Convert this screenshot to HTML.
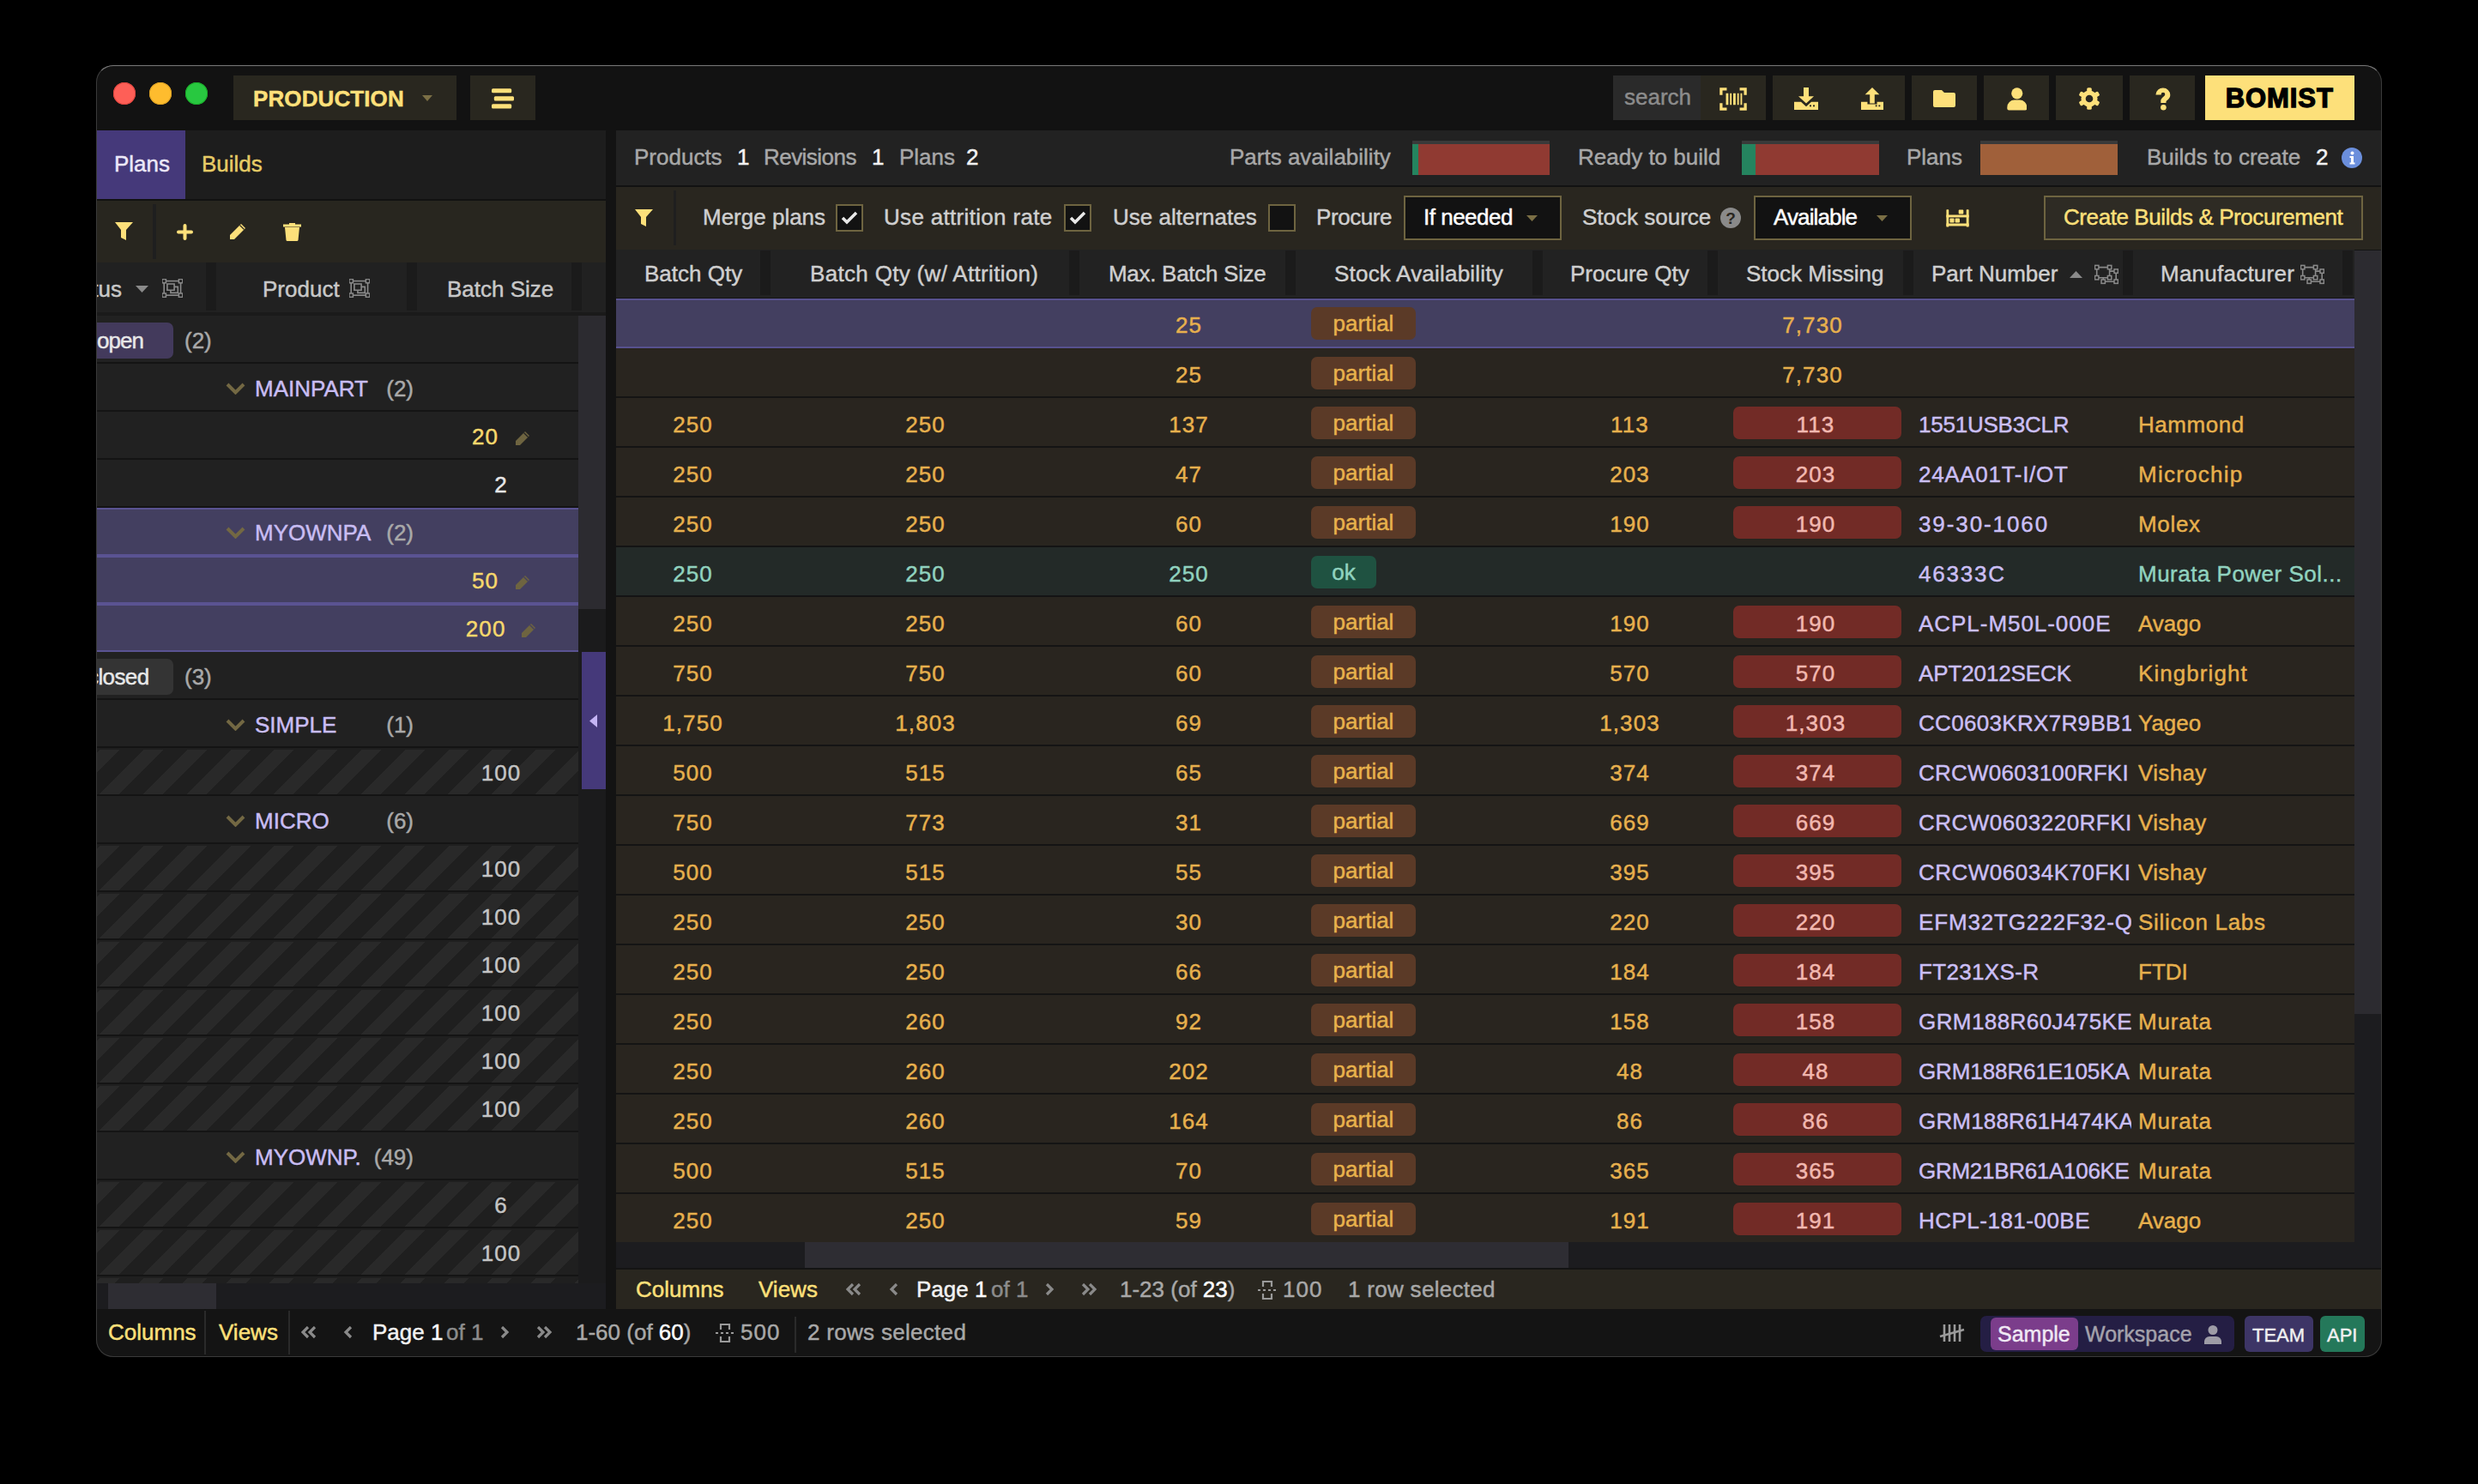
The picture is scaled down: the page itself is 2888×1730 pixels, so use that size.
<!DOCTYPE html><html><head><meta charset="utf-8"><style>
html,body{margin:0;padding:0;background:#000;width:2888px;height:1730px;overflow:hidden;}
body{position:relative;font-family:"Liberation Sans",sans-serif;}
.t{position:absolute;white-space:nowrap;-webkit-text-stroke-width:0.45px;}
.r{position:absolute;}
</style></head><body>
<div id="win" class="r" style="left:112px;top:76px;width:2664px;height:1506px;border-radius:20px;background:#131313;overflow:hidden;">
<div class="r" style="left:-112px;top:-76px;width:2888px;height:1730px;">
<div class="r" style="left:112px;top:76px;width:2664px;height:76px;background:#121212;"></div>
<div class="r" style="left:132px;top:96px;width:26px;height:26px;border-radius:50%;background:#fe5f57;box-shadow:inset 0 0 0 1px #e0443e;"></div>
<div class="r" style="left:174px;top:96px;width:26px;height:26px;border-radius:50%;background:#febc2e;box-shadow:inset 0 0 0 1px #dea123;"></div>
<div class="r" style="left:216px;top:96px;width:26px;height:26px;border-radius:50%;background:#28c840;box-shadow:inset 0 0 0 1px #1aab29;"></div>
<div class="r" style="left:272px;top:88px;width:260px;height:52px;background:#29271f;"></div>
<div class="t" style="left:295.0px;top:100.0px;font-size:26px;line-height:30px;color:#fde07a;font-weight:700;letter-spacing:0.1px;">PRODUCTION</div>
<svg class="r" style="left:492px;top:111px" width="12" height="7" viewBox="0 0 12 7" preserveAspectRatio="none"><path d="M0 0 L12 0 L6 7 Z" fill="#7b6f45"/></svg>
<div class="r" style="left:548px;top:88px;width:76px;height:52px;background:#29271f;"></div>
<svg class="r" style="left:572px;top:103px" width="28" height="24" viewBox="0 0 28 24" preserveAspectRatio="none"><rect x="1" y="0.2" width="23.2" height="5" rx="1.5" fill="#fde07a"/><rect x="3.8" y="9.3" width="23.2" height="5.2" rx="1.5" fill="#fde07a"/><rect x="1" y="18.3" width="23.2" height="5.1" rx="1.5" fill="#fde07a"/></svg>
<div class="r" style="left:1880px;top:88px;width:102px;height:52px;background:#2a2a2a;"></div>
<div class="t" style="left:1893.0px;top:98.0px;font-size:26px;line-height:30px;color:#8c8c8c;">search</div>
<div class="r" style="left:1982px;top:88px;width:76px;height:52px;background:#29271f;"></div>
<svg class="r" style="left:2004px;top:101.5px" width="32" height="27" viewBox="0 0 34 28" preserveAspectRatio="none"><g fill="none" stroke="#fde07a" stroke-width="3.5"><path d="M9 2H2V9"/><path d="M25 2H32V9"/><path d="M2 19V26H9"/><path d="M32 19V26H25"/></g><g fill="#fde07a"><rect x="8" y="7" width="3" height="14"/><rect x="13" y="7" width="2" height="14"/><rect x="17" y="7" width="3" height="14"/><rect x="22" y="7" width="2" height="14"/><rect x="26" y="7" width="2" height="14"/></g></svg>
<div class="r" style="left:2066px;top:88px;width:154px;height:52px;background:#29271f;"></div>
<svg class="r" style="left:2091px;top:102px" width="28" height="26" viewBox="0 0 28 28" preserveAspectRatio="none"><path d="M11 0h6v11h6l-9 9-9-9h6z" fill="#fde07a"/><path d="M0 18h8l6 6 6-6h8v10H0z" fill="#fde07a"/><rect x="22" y="22" width="2" height="2" fill="#29271f"/><rect x="18" y="22" width="2" height="2" fill="#29271f"/></svg>
<svg class="r" style="left:2169px;top:102px" width="26" height="26" viewBox="0 0 28 28" preserveAspectRatio="none"><path d="M14 0l9 9h-6v11h-6V9H5z" fill="#fde07a"/><path d="M0 18h8v3h12v-3h8v10H0z" fill="#fde07a"/><rect x="22" y="22" width="2" height="2" fill="#29271f"/><rect x="18" y="22" width="2" height="2" fill="#29271f"/></svg>
<div class="r" style="left:2228px;top:88px;width:76px;height:52px;background:#29271f;"></div>
<svg class="r" style="left:2253px;top:105px" width="26" height="20" viewBox="0 0 26 20" preserveAspectRatio="none"><path d="M2 0h8l3 3h11a2 2 0 0 1 2 2v13a2 2 0 0 1-2 2H2a2 2 0 0 1-2-2V2a2 2 0 0 1 2-2z" fill="#fde07a"/></svg>
<div class="r" style="left:2312px;top:88px;width:76px;height:52px;background:#29271f;"></div>
<svg class="r" style="left:2338.5px;top:101.5px" width="23.5" height="27" viewBox="0 0 23.5 27" preserveAspectRatio="none"><circle cx="11.75" cy="6.8" r="6.6" fill="#fde07a"/><path d="M0.3 24.5V23a8.5 8.5 0 0 1 8.5-8.5h6a8.5 8.5 0 0 1 8.5 8.5v1.5a2 2 0 0 1-2 2H2.3a2 2 0 0 1-2-2z" fill="#fde07a"/></svg>
<div class="r" style="left:2396px;top:88px;width:78px;height:52px;background:#29271f;"></div>
<svg class="r" style="left:2422px;top:102px" width="26" height="26" viewBox="0 0 26 26" preserveAspectRatio="none"><rect x="10.2" y="0.2" width="5.6" height="8" rx="1.6" fill="#fde07a" transform="rotate(0 13 13)"/><rect x="10.2" y="0.2" width="5.6" height="8" rx="1.6" fill="#fde07a" transform="rotate(60 13 13)"/><rect x="10.2" y="0.2" width="5.6" height="8" rx="1.6" fill="#fde07a" transform="rotate(120 13 13)"/><rect x="10.2" y="0.2" width="5.6" height="8" rx="1.6" fill="#fde07a" transform="rotate(180 13 13)"/><rect x="10.2" y="0.2" width="5.6" height="8" rx="1.6" fill="#fde07a" transform="rotate(240 13 13)"/><rect x="10.2" y="0.2" width="5.6" height="8" rx="1.6" fill="#fde07a" transform="rotate(300 13 13)"/><circle cx="13" cy="13" r="9.6" fill="#fde07a"/><circle cx="13" cy="13" r="4.3" fill="#29271f"/></svg>
<div class="r" style="left:2482px;top:88px;width:76px;height:52px;background:#29271f;"></div>
<svg class="r" style="left:2511.5px;top:101.5px" width="18" height="27" viewBox="0 0 18 27" preserveAspectRatio="none"><path d="M9 0.5a8.3 8.3 0 0 1 8.3 8.3c0 4.2-3.6 5.6-4.8 7.6v1.6H6.3v-2.4c0-3.8 5-5.2 5-7.6a2.3 2.3 0 0 0-4.6 0v0.6H0.5v-0.6A8.3 8.3 0 0 1 9 0.5z" fill="#fde07a"/><circle cx="9.4" cy="23.3" r="3.3" fill="#fde07a"/></svg>
<div class="r" style="left:2570px;top:88px;width:174px;height:52px;background:#fde07a;"></div>
<div class="t" style="left:2593.8px;top:96.9px;font-size:31px;line-height:36px;color:#000;font-weight:700;letter-spacing:0.9px;-webkit-text-stroke:1.3px #000;">BOMIST</div>
<div class="r" style="left:112px;top:152px;width:594px;height:80px;background:#1d1d1d;"></div>
<div class="r" style="left:112px;top:152px;width:104px;height:80px;background:#45397a;"></div>
<div class="t" style="left:133.0px;top:176.0px;font-size:26px;line-height:30px;color:#ece8f8;">Plans</div>
<div class="t" style="left:235.0px;top:176.0px;font-size:26px;line-height:30px;color:#e6cc66;">Builds</div>
<div class="r" style="left:112px;top:232px;width:594px;height:2px;background:#121212;"></div>
<div class="r" style="left:112px;top:234px;width:594px;height:72px;background:#28261f;"></div>
<div class="r" style="left:178px;top:238px;width:4px;height:64px;background:#1f1f1f;"></div>
<svg class="r" style="left:134px;top:259px" width="22" height="22" viewBox="0 0 22 22" preserveAspectRatio="none"><path d="M0 0h21l-8 9v12l-6-3V9z" fill="#fde07a"/></svg>
<svg class="r" style="left:206px;top:261px" width="19" height="19" viewBox="0 0 19 19" preserveAspectRatio="none"><path d="M9.5 2v15M2 9.5h15" stroke="#fde07a" stroke-width="4" stroke-linecap="round"/></svg>
<svg class="r" style="left:266px;top:259px" width="22" height="22" viewBox="0 0 22 22" preserveAspectRatio="none"><path d="M15 2l5 5-13 13H2v-5z" fill="#fde07a"/><path d="M13.5 3.5l5 5" stroke="#28261f" stroke-width="1.2"/></svg>
<svg class="r" style="left:330px;top:259px" width="21" height="22" viewBox="0 0 21 22" preserveAspectRatio="none"><path d="M0 2.5h21v3H0z" fill="#fde07a"/><path d="M7 1h7v2H7z" fill="#fde07a"/><path d="M2 6h17l-1.5 15a1.5 1.5 0 0 1-1.5 1H5a1.5 1.5 0 0 1-1.5-1z" fill="#fde07a"/></svg>
<div class="r" style="left:112px;top:306px;width:594px;height:58px;background:#212121;"></div>
<div class="r" style="left:240px;top:306px;width:12px;height:56px;background:#1b1b1b;"></div>
<div class="r" style="left:474px;top:306px;width:12px;height:56px;background:#1b1b1b;"></div>
<div class="r" style="left:666px;top:306px;width:12px;height:56px;background:#1b1b1b;"></div>
<div class="t" style="left:42.0px;width:100px;text-align:right;top:322.0px;font-size:26px;line-height:30px;color:#c8c8c8;">tus</div>
<svg class="r" style="left:158px;top:333px" width="15" height="9" viewBox="0 0 15 9" preserveAspectRatio="none"><path d="M0 0h15l-7.5 8z" fill="#8a8a8a"/></svg>
<svg class="r" style="left:189px;top:325px" width="24" height="22" viewBox="0 0 24 22" preserveAspectRatio="none"><g fill="none" stroke="#8a8a8a" stroke-width="1.6"><rect x="2.2" y="2.6" width="19.4" height="16.6"/><path d="M5.9 6H14.1V13.3H5.9Z"/><path d="M14.1 9.4H18.3V16.4H9.9V13.3"/></g><g fill="#212121" stroke="#8a8a8a" stroke-width="1.5"><rect x="0" y="0.4" width="4.4" height="4.4"/><rect x="19.4" y="0.4" width="4.4" height="4.4"/><rect x="0" y="17" width="4.4" height="4.4"/><rect x="19.4" y="17" width="4.4" height="4.4"/></g></svg>
<div class="t" style="left:306.0px;top:322.0px;font-size:26px;line-height:30px;color:#c8c8c8;">Product</div>
<svg class="r" style="left:407px;top:325px" width="24" height="22" viewBox="0 0 24 22" preserveAspectRatio="none"><g fill="none" stroke="#8a8a8a" stroke-width="1.6"><rect x="2.2" y="2.6" width="19.4" height="16.6"/><path d="M5.9 6H14.1V13.3H5.9Z"/><path d="M14.1 9.4H18.3V16.4H9.9V13.3"/></g><g fill="#212121" stroke="#8a8a8a" stroke-width="1.5"><rect x="0" y="0.4" width="4.4" height="4.4"/><rect x="19.4" y="0.4" width="4.4" height="4.4"/><rect x="0" y="17" width="4.4" height="4.4"/><rect x="19.4" y="17" width="4.4" height="4.4"/></g></svg>
<div class="t" style="left:521.0px;top:322.0px;font-size:26px;line-height:30px;color:#c8c8c8;">Batch Size</div>
<div class="r" style="left:112px;top:364px;width:594px;height:4px;background:#1a1a1a;"></div>
<div class="r" style="left:112px;top:368px;width:562px;height:1128px;overflow:hidden;background:#141414;">
<div class="r" style="left:0px;top:0px;width:562px;height:54px;background:#212121;"></div>
<div class="r" style="left:0px;top:54px;width:562px;height:2px;background:#141414;"></div>
<div class="r" style="left:-20px;top:8px;width:110px;height:42px;border-radius:7px;background:#433a5c;"></div>
<div class="t" style="left:1.0px;top:14.0px;font-size:26px;line-height:30px;color:#e8e8e8;letter-spacing:-1px;">open</div>
<div class="t" style="left:103.0px;top:14.0px;font-size:26px;line-height:30px;color:#a9a9a9;">(2)</div>
<div class="r" style="left:0px;top:56px;width:562px;height:54px;background:#212121;"></div>
<div class="r" style="left:0px;top:110px;width:562px;height:2px;background:#141414;"></div>
<svg class="r" style="left:151px;top:78px" width="23" height="14" viewBox="0 0 23 14" preserveAspectRatio="none"><path d="M2 2l9.5 9.5L21 2" fill="none" stroke="#736843" stroke-width="4"/></svg>
<div class="t" style="left:185.0px;top:70.0px;font-size:26px;line-height:30px;color:#c9bdf3;">MAINPART</div>
<div class="t" style="left:270.0px;width:100px;text-align:right;top:70.0px;font-size:26px;line-height:30px;color:#a9a9a9;">(2)</div>
<div class="r" style="left:0px;top:112px;width:562px;height:54px;background:#212121;"></div>
<div class="r" style="left:0px;top:166px;width:562px;height:2px;background:#141414;"></div>
<div class="t" style="left:438.0px;top:126.0px;font-size:26px;line-height:30px;color:#f6d86c;letter-spacing:1.1px;">20</div>
<svg class="r" style="left:487px;top:134px" width="19" height="19" viewBox="0 0 19 19" preserveAspectRatio="none"><path d="M13 1l5 5-11 11H2v-5z" fill="#6e6440"/><path d="M11.5 2.5l5 5" stroke="#212121" stroke-width="1.2"/></svg>
<div class="r" style="left:0px;top:168px;width:562px;height:54px;background:#212121;"></div>
<div class="r" style="left:0px;top:222px;width:562px;height:2px;background:#141414;"></div>
<div class="t" style="left:422.1px;width:100px;text-align:center;top:182.0px;font-size:26px;line-height:30px;color:#e6e6e6;letter-spacing:1.1px;">2</div>
<div class="r" style="left:0px;top:224px;width:562px;height:56px;background:#5a5392;"></div>
<div class="r" style="left:0px;top:226px;width:562px;height:52px;background:#433f60;"></div>
<svg class="r" style="left:151px;top:246px" width="23" height="14" viewBox="0 0 23 14" preserveAspectRatio="none"><path d="M2 2l9.5 9.5L21 2" fill="none" stroke="#736843" stroke-width="4"/></svg>
<div class="t" style="left:185.0px;top:238.0px;font-size:26px;line-height:30px;color:#c9bdf3;width:137px;overflow:hidden;">MYOWNPA</div>
<div class="t" style="left:270.0px;width:100px;text-align:right;top:238.0px;font-size:26px;line-height:30px;color:#a9a9a9;">(2)</div>
<div class="r" style="left:0px;top:280px;width:562px;height:56px;background:#5a5392;"></div>
<div class="r" style="left:0px;top:282px;width:562px;height:52px;background:#433f60;"></div>
<div class="t" style="left:438.0px;top:294.0px;font-size:26px;line-height:30px;color:#f6d86c;letter-spacing:1.1px;">50</div>
<svg class="r" style="left:487px;top:302px" width="19" height="19" viewBox="0 0 19 19" preserveAspectRatio="none"><path d="M13 1l5 5-11 11H2v-5z" fill="#6e6440"/><path d="M11.5 2.5l5 5" stroke="#433f60" stroke-width="1.2"/></svg>
<div class="r" style="left:0px;top:336px;width:562px;height:56px;background:#5a5392;"></div>
<div class="r" style="left:0px;top:338px;width:562px;height:52px;background:#433f60;"></div>
<div class="t" style="left:430.8px;top:350.0px;font-size:26px;line-height:30px;color:#f6d86c;letter-spacing:1.1px;">200</div>
<svg class="r" style="left:494px;top:358px" width="19" height="19" viewBox="0 0 19 19" preserveAspectRatio="none"><path d="M13 1l5 5-11 11H2v-5z" fill="#6e6440"/><path d="M11.5 2.5l5 5" stroke="#433f60" stroke-width="1.2"/></svg>
<div class="r" style="left:0px;top:392px;width:562px;height:54px;background:#212121;"></div>
<div class="r" style="left:0px;top:446px;width:562px;height:2px;background:#141414;"></div>
<div class="r" style="left:-20px;top:400px;width:110px;height:42px;border-radius:7px;background:#343434;"></div>
<div class="t" style="left:-10.0px;top:406.0px;font-size:26px;line-height:30px;color:#e8e8e8;letter-spacing:-0.6px;">closed</div>
<div class="t" style="left:103.0px;top:406.0px;font-size:26px;line-height:30px;color:#a9a9a9;">(3)</div>
<div class="r" style="left:0px;top:448px;width:562px;height:54px;background:#212121;"></div>
<div class="r" style="left:0px;top:502px;width:562px;height:2px;background:#141414;"></div>
<svg class="r" style="left:151px;top:470px" width="23" height="14" viewBox="0 0 23 14" preserveAspectRatio="none"><path d="M2 2l9.5 9.5L21 2" fill="none" stroke="#736843" stroke-width="4"/></svg>
<div class="t" style="left:185.0px;top:462.0px;font-size:26px;line-height:30px;color:#c9bdf3;">SIMPLE</div>
<div class="t" style="left:270.0px;width:100px;text-align:right;top:462.0px;font-size:26px;line-height:30px;color:#a9a9a9;">(1)</div>
<div class="r" style="left:0px;top:504px;width:562px;height:54px;background:#1f1f1f;"></div>
<div class="r" style="left:0px;top:506px;width:562px;height:52px;background:repeating-linear-gradient(135deg,#1f1f1f 0px,#1f1f1f 3.35px,#292929 3.35px,#292929 19.65px,#1f1f1f 19.65px,#1f1f1f 35.92px);"></div>
<div class="r" style="left:0px;top:558px;width:562px;height:2px;background:#141414;"></div>
<div class="t" style="left:422.1px;width:100px;text-align:center;top:518.0px;font-size:26px;line-height:30px;color:#c4c4c4;letter-spacing:1.1px;">100</div>
<div class="r" style="left:0px;top:560px;width:562px;height:54px;background:#212121;"></div>
<div class="r" style="left:0px;top:614px;width:562px;height:2px;background:#141414;"></div>
<svg class="r" style="left:151px;top:582px" width="23" height="14" viewBox="0 0 23 14" preserveAspectRatio="none"><path d="M2 2l9.5 9.5L21 2" fill="none" stroke="#736843" stroke-width="4"/></svg>
<div class="t" style="left:185.0px;top:574.0px;font-size:26px;line-height:30px;color:#c9bdf3;">MICRO</div>
<div class="t" style="left:270.0px;width:100px;text-align:right;top:574.0px;font-size:26px;line-height:30px;color:#a9a9a9;">(6)</div>
<div class="r" style="left:0px;top:616px;width:562px;height:54px;background:#1f1f1f;"></div>
<div class="r" style="left:0px;top:618px;width:562px;height:52px;background:repeating-linear-gradient(135deg,#1f1f1f 0px,#1f1f1f 3.35px,#292929 3.35px,#292929 19.65px,#1f1f1f 19.65px,#1f1f1f 35.92px);"></div>
<div class="r" style="left:0px;top:670px;width:562px;height:2px;background:#141414;"></div>
<div class="t" style="left:422.1px;width:100px;text-align:center;top:630.0px;font-size:26px;line-height:30px;color:#c4c4c4;letter-spacing:1.1px;">100</div>
<div class="r" style="left:0px;top:672px;width:562px;height:54px;background:#1f1f1f;"></div>
<div class="r" style="left:0px;top:674px;width:562px;height:52px;background:repeating-linear-gradient(135deg,#1f1f1f 0px,#1f1f1f 3.35px,#292929 3.35px,#292929 19.65px,#1f1f1f 19.65px,#1f1f1f 35.92px);"></div>
<div class="r" style="left:0px;top:726px;width:562px;height:2px;background:#141414;"></div>
<div class="t" style="left:422.1px;width:100px;text-align:center;top:686.0px;font-size:26px;line-height:30px;color:#c4c4c4;letter-spacing:1.1px;">100</div>
<div class="r" style="left:0px;top:728px;width:562px;height:54px;background:#1f1f1f;"></div>
<div class="r" style="left:0px;top:730px;width:562px;height:52px;background:repeating-linear-gradient(135deg,#1f1f1f 0px,#1f1f1f 3.35px,#292929 3.35px,#292929 19.65px,#1f1f1f 19.65px,#1f1f1f 35.92px);"></div>
<div class="r" style="left:0px;top:782px;width:562px;height:2px;background:#141414;"></div>
<div class="t" style="left:422.1px;width:100px;text-align:center;top:742.0px;font-size:26px;line-height:30px;color:#c4c4c4;letter-spacing:1.1px;">100</div>
<div class="r" style="left:0px;top:784px;width:562px;height:54px;background:#1f1f1f;"></div>
<div class="r" style="left:0px;top:786px;width:562px;height:52px;background:repeating-linear-gradient(135deg,#1f1f1f 0px,#1f1f1f 3.35px,#292929 3.35px,#292929 19.65px,#1f1f1f 19.65px,#1f1f1f 35.92px);"></div>
<div class="r" style="left:0px;top:838px;width:562px;height:2px;background:#141414;"></div>
<div class="t" style="left:422.1px;width:100px;text-align:center;top:798.0px;font-size:26px;line-height:30px;color:#c4c4c4;letter-spacing:1.1px;">100</div>
<div class="r" style="left:0px;top:840px;width:562px;height:54px;background:#1f1f1f;"></div>
<div class="r" style="left:0px;top:842px;width:562px;height:52px;background:repeating-linear-gradient(135deg,#1f1f1f 0px,#1f1f1f 3.35px,#292929 3.35px,#292929 19.65px,#1f1f1f 19.65px,#1f1f1f 35.92px);"></div>
<div class="r" style="left:0px;top:894px;width:562px;height:2px;background:#141414;"></div>
<div class="t" style="left:422.1px;width:100px;text-align:center;top:854.0px;font-size:26px;line-height:30px;color:#c4c4c4;letter-spacing:1.1px;">100</div>
<div class="r" style="left:0px;top:896px;width:562px;height:54px;background:#1f1f1f;"></div>
<div class="r" style="left:0px;top:898px;width:562px;height:52px;background:repeating-linear-gradient(135deg,#1f1f1f 0px,#1f1f1f 3.35px,#292929 3.35px,#292929 19.65px,#1f1f1f 19.65px,#1f1f1f 35.92px);"></div>
<div class="r" style="left:0px;top:950px;width:562px;height:2px;background:#141414;"></div>
<div class="t" style="left:422.1px;width:100px;text-align:center;top:910.0px;font-size:26px;line-height:30px;color:#c4c4c4;letter-spacing:1.1px;">100</div>
<div class="r" style="left:0px;top:952px;width:562px;height:54px;background:#212121;"></div>
<div class="r" style="left:0px;top:1006px;width:562px;height:2px;background:#141414;"></div>
<svg class="r" style="left:151px;top:974px" width="23" height="14" viewBox="0 0 23 14" preserveAspectRatio="none"><path d="M2 2l9.5 9.5L21 2" fill="none" stroke="#736843" stroke-width="4"/></svg>
<div class="t" style="left:185.0px;top:966.0px;font-size:26px;line-height:30px;color:#c9bdf3;width:129px;overflow:hidden;">MYOWNP.</div>
<div class="t" style="left:270.0px;width:100px;text-align:right;top:966.0px;font-size:26px;line-height:30px;color:#a9a9a9;">(49)</div>
<div class="r" style="left:0px;top:1008px;width:562px;height:54px;background:#1f1f1f;"></div>
<div class="r" style="left:0px;top:1010px;width:562px;height:52px;background:repeating-linear-gradient(135deg,#1f1f1f 0px,#1f1f1f 3.35px,#292929 3.35px,#292929 19.65px,#1f1f1f 19.65px,#1f1f1f 35.92px);"></div>
<div class="r" style="left:0px;top:1062px;width:562px;height:2px;background:#141414;"></div>
<div class="t" style="left:422.1px;width:100px;text-align:center;top:1022.0px;font-size:26px;line-height:30px;color:#c4c4c4;letter-spacing:1.1px;">6</div>
<div class="r" style="left:0px;top:1064px;width:562px;height:54px;background:#1f1f1f;"></div>
<div class="r" style="left:0px;top:1066px;width:562px;height:52px;background:repeating-linear-gradient(135deg,#1f1f1f 0px,#1f1f1f 3.35px,#292929 3.35px,#292929 19.65px,#1f1f1f 19.65px,#1f1f1f 35.92px);"></div>
<div class="r" style="left:0px;top:1118px;width:562px;height:2px;background:#141414;"></div>
<div class="t" style="left:422.1px;width:100px;text-align:center;top:1078.0px;font-size:26px;line-height:30px;color:#c4c4c4;letter-spacing:1.1px;">100</div>
<div class="r" style="left:0px;top:1120px;width:562px;height:54px;background:#1f1f1f;"></div>
<div class="r" style="left:0px;top:1122px;width:562px;height:52px;background:repeating-linear-gradient(135deg,#1f1f1f 0px,#1f1f1f 3.35px,#292929 3.35px,#292929 19.65px,#1f1f1f 19.65px,#1f1f1f 35.92px);"></div>
<div class="r" style="left:0px;top:1174px;width:562px;height:2px;background:#141414;"></div>
</div>
<div class="r" style="left:674px;top:368px;width:32px;height:1128px;background:#1b1b1c;"></div>
<div class="r" style="left:674px;top:368px;width:32px;height:342px;background:#2c2b30;"></div>
<div class="r" style="left:678px;top:760px;width:28px;height:160px;background:#45397a;"></div>
<svg class="r" style="left:687px;top:833px" width="9" height="15" viewBox="0 0 9 15" preserveAspectRatio="none"><path d="M9 0v15L0 7.5z" fill="#c4b4f4"/></svg>
<div class="r" style="left:112px;top:1496px;width:594px;height:30px;background:#1c1c1f;"></div>
<div class="r" style="left:126px;top:1496px;width:126px;height:30px;background:#2e2d33;"></div>
<div class="r" style="left:112px;top:1526px;width:594px;height:55px;background:#141414;"></div>
<div class="r" style="left:706px;top:152px;width:12px;height:1374px;background:#131313;"></div>
<div class="r" style="left:718px;top:152px;width:2058px;height:64px;background:#222222;"></div>
<div class="t" style="left:739.0px;top:168.0px;font-size:26px;line-height:30px;color:#a8a8a8;">Products</div>
<div class="t" style="left:859.0px;top:168.0px;font-size:26px;line-height:30px;color:#f2f2f2;letter-spacing:1.1px;">1</div>
<div class="t" style="left:890.0px;top:168.0px;font-size:26px;line-height:30px;color:#a8a8a8;letter-spacing:-0.54px;">Revisions</div>
<div class="t" style="left:1016.0px;top:168.0px;font-size:26px;line-height:30px;color:#f2f2f2;letter-spacing:1.1px;">1</div>
<div class="t" style="left:1048.0px;top:168.0px;font-size:26px;line-height:30px;color:#a8a8a8;">Plans</div>
<div class="t" style="left:1126.0px;top:168.0px;font-size:26px;line-height:30px;color:#f2f2f2;letter-spacing:1.1px;">2</div>
<div class="t" style="left:1433.0px;top:168.0px;font-size:26px;line-height:30px;color:#a8a8a8;">Parts availability</div>
<div class="r" style="left:1646px;top:164px;width:160px;height:4px;background:#3a3a3a;"></div>
<div class="r" style="left:1646px;top:168px;width:160px;height:36px;background:#903a32;"></div>
<div class="r" style="left:1646px;top:168px;width:7px;height:36px;background:#25845f;"></div>
<div class="t" style="left:1839.0px;top:168.0px;font-size:26px;line-height:30px;color:#a8a8a8;">Ready to build</div>
<div class="r" style="left:2030px;top:164px;width:160px;height:4px;background:#3a3a3a;"></div>
<div class="r" style="left:2030px;top:168px;width:160px;height:36px;background:#903a32;"></div>
<div class="r" style="left:2030px;top:168px;width:16px;height:36px;background:#25845f;"></div>
<div class="t" style="left:2222.0px;top:168.0px;font-size:26px;line-height:30px;color:#a8a8a8;">Plans</div>
<div class="r" style="left:2308px;top:164px;width:160px;height:4px;background:#3a3a3a;"></div>
<div class="r" style="left:2308px;top:168px;width:160px;height:36px;background:#a0603a;"></div>
<div class="t" style="left:2502.0px;top:168.0px;font-size:26px;line-height:30px;color:#a8a8a8;">Builds to create</div>
<div class="t" style="left:2699.0px;top:168.0px;font-size:26px;line-height:30px;color:#f2f2f2;letter-spacing:1.1px;">2</div>
<svg class="r" style="left:2729px;top:172px" width="24" height="24" viewBox="0 0 24 24" preserveAspectRatio="none"><circle cx="12" cy="12" r="12" fill="#6b8fdc"/><circle cx="12.5" cy="6.5" r="2" fill="#fff"/><path d="M9.5 10h4.5v7.5h1.5v2h-6v-2h1.5v-5.5h-1.5z" fill="#fff"/></svg>
<div class="r" style="left:718px;top:216px;width:2058px;height:2px;background:#121212;"></div>
<div class="r" style="left:718px;top:218px;width:2058px;height:73px;background:#29261f;"></div>
<svg class="r" style="left:740px;top:244px" width="22" height="20" viewBox="0 0 22 20" preserveAspectRatio="none"><path d="M0 0h21l-8 9v11l-6-3V9z" fill="#fde07a"/></svg>
<div class="r" style="left:785px;top:222px;width:3px;height:64px;background:#1f1f1f;"></div>
<div class="t" style="left:819.0px;top:238.0px;font-size:26px;line-height:30px;color:#cfcfcf;">Merge plans</div>
<div class="r" style="left:974px;top:238px;width:28px;height:28px;border:2px solid #6e6440;background:#121212;"></div>
<svg class="r" style="left:980px;top:246px" width="20" height="16" viewBox="0 0 20 16" preserveAspectRatio="none"><path d="M2 8l5 5L18 2" fill="none" stroke="#e8e8e8" stroke-width="3.5"/></svg>
<div class="t" style="left:1030.0px;top:238.0px;font-size:26px;line-height:30px;color:#cfcfcf;letter-spacing:0.32px;">Use attrition rate</div>
<div class="r" style="left:1240px;top:238px;width:28px;height:28px;border:2px solid #6e6440;background:#121212;"></div>
<svg class="r" style="left:1246px;top:246px" width="20" height="16" viewBox="0 0 20 16" preserveAspectRatio="none"><path d="M2 8l5 5L18 2" fill="none" stroke="#e8e8e8" stroke-width="3.5"/></svg>
<div class="t" style="left:1297.0px;top:238.0px;font-size:26px;line-height:30px;color:#cfcfcf;">Use alternates</div>
<div class="r" style="left:1478px;top:238px;width:28px;height:28px;border:2px solid #6e6440;background:#121212;"></div>
<div class="t" style="left:1534.0px;top:238.0px;font-size:26px;line-height:30px;color:#cfcfcf;letter-spacing:-0.43px;">Procure</div>
<div class="r" style="left:1636px;top:228px;width:180px;height:48px;border:2px solid #6e6440;background:#121212;"></div>
<div class="t" style="left:1659.0px;top:238.0px;font-size:26px;line-height:30px;color:#ffffff;letter-spacing:-0.50px;">If needed</div>
<svg class="r" style="left:1779px;top:251px" width="13" height="7" viewBox="0 0 13 7" preserveAspectRatio="none"><path d="M0 0h13l-6.5 7z" fill="#7b6f45"/></svg>
<div class="t" style="left:1844.0px;top:238.0px;font-size:26px;line-height:30px;color:#cfcfcf;">Stock source</div>
<svg class="r" style="left:2005px;top:242px" width="24" height="24" viewBox="0 0 24 24" preserveAspectRatio="none"><circle cx="12" cy="12" r="12" fill="#8a8a8a"/><text x="12" y="19" font-size="19" font-weight="700" text-anchor="middle" fill="#29261f" font-family="Liberation Sans">?</text></svg>
<div class="r" style="left:2044px;top:228px;width:180px;height:48px;border:2px solid #6e6440;background:#121212;"></div>
<div class="t" style="left:2067.0px;top:238.0px;font-size:26px;line-height:30px;color:#ffffff;letter-spacing:-0.88px;">Available</div>
<svg class="r" style="left:2187px;top:251px" width="13" height="7" viewBox="0 0 13 7" preserveAspectRatio="none"><path d="M0 0h13l-6.5 7z" fill="#7b6f45"/></svg>
<svg class="r" style="left:2267.5px;top:243.5px" width="27" height="21" viewBox="0 0 27 21" preserveAspectRatio="none"><g fill="#fde07a"><rect x="0.4" y="0.3" width="2.8" height="20.3" rx="0.6"/><rect x="23.7" y="0.3" width="2.9" height="20.3" rx="0.6"/><rect x="0.4" y="6.5" width="26.2" height="2.9"/><rect x="0.4" y="16.5" width="26.2" height="3"/><rect x="14.7" y="0.5" width="5.6" height="5" rx="1"/><rect x="4.4" y="10.5" width="5.1" height="5" rx="0.8"/><rect x="10.6" y="10.5" width="5.4" height="5" rx="1"/></g></svg>
<div class="r" style="left:2382px;top:228px;width:368px;height:48px;border:2px solid #6e6440;background:#2e2b24;"></div>
<div class="t" style="left:2405.0px;top:238.0px;font-size:26px;line-height:30px;color:#fde07a;letter-spacing:-0.42px;">Create Builds &amp; Procurement</div>
<div class="r" style="left:718px;top:291px;width:2026px;height:56px;background:#222222;"></div>
<div class="r" style="left:718px;top:347px;width:2026px;height:1px;background:#141414;"></div>
<div class="r" style="left:886px;top:292px;width:12px;height:52px;background:#1b1b1b;"></div>
<div class="r" style="left:1246px;top:292px;width:12px;height:52px;background:#1b1b1b;"></div>
<div class="r" style="left:1498px;top:292px;width:12px;height:52px;background:#1b1b1b;"></div>
<div class="r" style="left:1786px;top:292px;width:12px;height:52px;background:#1b1b1b;"></div>
<div class="r" style="left:1990px;top:292px;width:12px;height:52px;background:#1b1b1b;"></div>
<div class="r" style="left:2218px;top:292px;width:12px;height:52px;background:#1b1b1b;"></div>
<div class="r" style="left:2474px;top:292px;width:12px;height:52px;background:#1b1b1b;"></div>
<div class="r" style="left:2730px;top:292px;width:12px;height:52px;background:#1b1b1b;"></div>
<div class="t" style="left:751.0px;top:304.0px;font-size:26px;line-height:30px;color:#cfcfcf;">Batch Qty</div>
<div class="t" style="left:944.0px;top:304.0px;font-size:26px;line-height:30px;color:#cfcfcf;letter-spacing:0.32px;">Batch Qty (w/ Attrition)</div>
<div class="t" style="left:1292.0px;top:304.0px;font-size:26px;line-height:30px;color:#cfcfcf;letter-spacing:-0.29px;">Max. Batch Size</div>
<div class="t" style="left:1555.0px;top:304.0px;font-size:26px;line-height:30px;color:#cfcfcf;letter-spacing:0.21px;">Stock Availability</div>
<div class="t" style="left:1830.0px;top:304.0px;font-size:26px;line-height:30px;color:#cfcfcf;">Procure Qty</div>
<div class="t" style="left:2035.0px;top:304.0px;font-size:26px;line-height:30px;color:#cfcfcf;">Stock Missing</div>
<div class="t" style="left:2251.0px;top:304.0px;font-size:26px;line-height:30px;color:#cfcfcf;">Part Number</div>
<svg class="r" style="left:2412px;top:316px" width="15" height="9" viewBox="0 0 15 9" preserveAspectRatio="none"><path d="M0 8h15L7.5 0z" fill="#8a8a8a"/></svg>
<svg class="r" style="left:2441px;top:308px" width="28" height="24" viewBox="0 0 28 24" preserveAspectRatio="none"><g fill="none" stroke="#8a8a8a" stroke-width="1.6"><path d="M2.7 3.6H17.6V15.7H2.7Z"/><path d="M17.6 8.1H25.2V20.2H10.2V15.7"/></g><g fill="#222" stroke="#8a8a8a" stroke-width="1.5"><rect x="0.5" y="1.4" width="4.4" height="4.4"/><rect x="15.4" y="1.4" width="4.4" height="4.4"/><rect x="0.5" y="13.5" width="4.4" height="4.4"/><rect x="15.4" y="13.5" width="4.4" height="4.4"/><rect x="23" y="5.9" width="4.4" height="4.4"/><rect x="8" y="18" width="4.4" height="4.4"/><rect x="23" y="18" width="4.4" height="4.4"/></g></svg>
<div class="t" style="left:2518.0px;top:304.0px;font-size:26px;line-height:30px;color:#cfcfcf;letter-spacing:0.24px;">Manufacturer</div>
<svg class="r" style="left:2681px;top:308px" width="28" height="24" viewBox="0 0 28 24" preserveAspectRatio="none"><g fill="none" stroke="#8a8a8a" stroke-width="1.6"><path d="M2.7 3.6H17.6V15.7H2.7Z"/><path d="M17.6 8.1H25.2V20.2H10.2V15.7"/></g><g fill="#222" stroke="#8a8a8a" stroke-width="1.5"><rect x="0.5" y="1.4" width="4.4" height="4.4"/><rect x="15.4" y="1.4" width="4.4" height="4.4"/><rect x="0.5" y="13.5" width="4.4" height="4.4"/><rect x="15.4" y="13.5" width="4.4" height="4.4"/><rect x="23" y="5.9" width="4.4" height="4.4"/><rect x="8" y="18" width="4.4" height="4.4"/><rect x="23" y="18" width="4.4" height="4.4"/></g></svg>
<div class="r" style="left:2744px;top:292px;width:32px;height:1156px;background:#1c1c1f;"></div>
<div class="r" style="left:2744px;top:292px;width:32px;height:890px;background:#2c2b30;"></div>
<div class="r" style="left:718px;top:348px;width:2026px;height:1100px;overflow:hidden;">
<div class="r" style="left:0px;top:0px;width:2026px;height:58px;background:#57518e;"></div>
<div class="r" style="left:0px;top:2px;width:2026px;height:54px;background:#433f60;"></div>
<div class="t" style="left:587.5px;width:160px;text-align:center;top:16.2px;font-size:26px;line-height:30px;color:#e7b04d;letter-spacing:1.1px;">25</div>
<div class="r" style="left:810px;top:10px;width:122px;height:38px;border-radius:7px;background:#5b3a27;"></div>
<div class="t" style="left:810.0px;width:122px;text-align:center;top:14.0px;font-size:26px;line-height:30px;color:#e8b24c;">partial</div>
<div class="t" style="left:1314.5px;width:160px;text-align:center;top:16.2px;font-size:26px;line-height:30px;color:#e7b04d;letter-spacing:1.1px;">7,730</div>
<div class="r" style="left:0px;top:58px;width:2026px;height:56px;background:#29251f;"></div>
<div class="r" style="left:0px;top:114px;width:2026px;height:2px;background:#141414;"></div>
<div class="t" style="left:587.5px;width:160px;text-align:center;top:74.2px;font-size:26px;line-height:30px;color:#e7b04d;letter-spacing:1.1px;">25</div>
<div class="r" style="left:810px;top:68px;width:122px;height:38px;border-radius:7px;background:#5b3a27;"></div>
<div class="t" style="left:810.0px;width:122px;text-align:center;top:72.0px;font-size:26px;line-height:30px;color:#e8b24c;">partial</div>
<div class="t" style="left:1314.5px;width:160px;text-align:center;top:74.2px;font-size:26px;line-height:30px;color:#e7b04d;letter-spacing:1.1px;">7,730</div>
<div class="r" style="left:0px;top:116px;width:2026px;height:56px;background:#29251f;"></div>
<div class="r" style="left:0px;top:172px;width:2026px;height:2px;background:#141414;"></div>
<div class="t" style="left:9.5px;width:160px;text-align:center;top:132.2px;font-size:26px;line-height:30px;color:#e7b04d;letter-spacing:1.1px;">250</div>
<div class="t" style="left:260.6px;width:200px;text-align:center;top:132.2px;font-size:26px;line-height:30px;color:#e7b04d;letter-spacing:1.1px;">250</div>
<div class="t" style="left:587.5px;width:160px;text-align:center;top:132.2px;font-size:26px;line-height:30px;color:#e7b04d;letter-spacing:1.1px;">137</div>
<div class="r" style="left:810px;top:126px;width:122px;height:38px;border-radius:7px;background:#5b3a27;"></div>
<div class="t" style="left:810.0px;width:122px;text-align:center;top:130.0px;font-size:26px;line-height:30px;color:#e8b24c;">partial</div>
<div class="t" style="left:1101.5px;width:160px;text-align:center;top:132.2px;font-size:26px;line-height:30px;color:#e7b04d;letter-spacing:1.1px;">113</div>
<div class="r" style="left:1302px;top:126px;width:196px;height:38px;border-radius:7px;background:#722b26;"></div>
<div class="t" style="left:1300.0px;width:196px;text-align:center;top:132.2px;font-size:26px;line-height:30px;color:#f2b8b0;letter-spacing:1.1px;">113</div>
<div class="t" style="left:1518.0px;top:132.2px;font-size:26px;line-height:30px;color:#cbbff5;width:248px;overflow:hidden;letter-spacing:-0.23px;">1551USB3CLR</div>
<div class="t" style="left:1774.0px;top:132.2px;font-size:26px;line-height:30px;color:#e7b04d;letter-spacing:0.55px;">Hammond</div>
<div class="r" style="left:0px;top:174px;width:2026px;height:56px;background:#29251f;"></div>
<div class="r" style="left:0px;top:230px;width:2026px;height:2px;background:#141414;"></div>
<div class="t" style="left:9.5px;width:160px;text-align:center;top:190.2px;font-size:26px;line-height:30px;color:#e7b04d;letter-spacing:1.1px;">250</div>
<div class="t" style="left:260.6px;width:200px;text-align:center;top:190.2px;font-size:26px;line-height:30px;color:#e7b04d;letter-spacing:1.1px;">250</div>
<div class="t" style="left:587.5px;width:160px;text-align:center;top:190.2px;font-size:26px;line-height:30px;color:#e7b04d;letter-spacing:1.1px;">47</div>
<div class="r" style="left:810px;top:184px;width:122px;height:38px;border-radius:7px;background:#5b3a27;"></div>
<div class="t" style="left:810.0px;width:122px;text-align:center;top:188.0px;font-size:26px;line-height:30px;color:#e8b24c;">partial</div>
<div class="t" style="left:1101.5px;width:160px;text-align:center;top:190.2px;font-size:26px;line-height:30px;color:#e7b04d;letter-spacing:1.1px;">203</div>
<div class="r" style="left:1302px;top:184px;width:196px;height:38px;border-radius:7px;background:#722b26;"></div>
<div class="t" style="left:1300.0px;width:196px;text-align:center;top:190.2px;font-size:26px;line-height:30px;color:#f2b8b0;letter-spacing:1.1px;">203</div>
<div class="t" style="left:1518.0px;top:190.2px;font-size:26px;line-height:30px;color:#cbbff5;width:248px;overflow:hidden;letter-spacing:0.69px;">24AA01T-I/OT</div>
<div class="t" style="left:1774.0px;top:190.2px;font-size:26px;line-height:30px;color:#e7b04d;letter-spacing:1.24px;">Microchip</div>
<div class="r" style="left:0px;top:232px;width:2026px;height:56px;background:#29251f;"></div>
<div class="r" style="left:0px;top:288px;width:2026px;height:2px;background:#141414;"></div>
<div class="t" style="left:9.5px;width:160px;text-align:center;top:248.2px;font-size:26px;line-height:30px;color:#e7b04d;letter-spacing:1.1px;">250</div>
<div class="t" style="left:260.6px;width:200px;text-align:center;top:248.2px;font-size:26px;line-height:30px;color:#e7b04d;letter-spacing:1.1px;">250</div>
<div class="t" style="left:587.5px;width:160px;text-align:center;top:248.2px;font-size:26px;line-height:30px;color:#e7b04d;letter-spacing:1.1px;">60</div>
<div class="r" style="left:810px;top:242px;width:122px;height:38px;border-radius:7px;background:#5b3a27;"></div>
<div class="t" style="left:810.0px;width:122px;text-align:center;top:246.0px;font-size:26px;line-height:30px;color:#e8b24c;">partial</div>
<div class="t" style="left:1101.5px;width:160px;text-align:center;top:248.2px;font-size:26px;line-height:30px;color:#e7b04d;letter-spacing:1.1px;">190</div>
<div class="r" style="left:1302px;top:242px;width:196px;height:38px;border-radius:7px;background:#722b26;"></div>
<div class="t" style="left:1300.0px;width:196px;text-align:center;top:248.2px;font-size:26px;line-height:30px;color:#f2b8b0;letter-spacing:1.1px;">190</div>
<div class="t" style="left:1518.0px;top:248.2px;font-size:26px;line-height:30px;color:#cbbff5;width:248px;overflow:hidden;letter-spacing:1.90px;">39-30-1060</div>
<div class="t" style="left:1774.0px;top:248.2px;font-size:26px;line-height:30px;color:#e7b04d;letter-spacing:0.68px;">Molex</div>
<div class="r" style="left:0px;top:290px;width:2026px;height:56px;background:#232a28;"></div>
<div class="r" style="left:0px;top:346px;width:2026px;height:2px;background:#141414;"></div>
<div class="t" style="left:9.5px;width:160px;text-align:center;top:306.2px;font-size:26px;line-height:30px;color:#90d2bf;letter-spacing:1.1px;">250</div>
<div class="t" style="left:260.6px;width:200px;text-align:center;top:306.2px;font-size:26px;line-height:30px;color:#90d2bf;letter-spacing:1.1px;">250</div>
<div class="t" style="left:587.5px;width:160px;text-align:center;top:306.2px;font-size:26px;line-height:30px;color:#90d2bf;letter-spacing:1.1px;">250</div>
<div class="r" style="left:810px;top:300px;width:76px;height:38px;border-radius:7px;background:#1f5241;"></div>
<div class="t" style="left:810.0px;width:76px;text-align:center;top:304.0px;font-size:26px;line-height:30px;color:#90d2bf;">ok</div>
<div class="t" style="left:1518.0px;top:306.2px;font-size:26px;line-height:30px;color:#cbbff5;width:248px;overflow:hidden;letter-spacing:1.79px;">46333C</div>
<div class="t" style="left:1774.0px;top:306.2px;font-size:26px;line-height:30px;color:#90d2bf;letter-spacing:0.49px;">Murata Power Sol...</div>
<div class="r" style="left:0px;top:348px;width:2026px;height:56px;background:#29251f;"></div>
<div class="r" style="left:0px;top:404px;width:2026px;height:2px;background:#141414;"></div>
<div class="t" style="left:9.5px;width:160px;text-align:center;top:364.2px;font-size:26px;line-height:30px;color:#e7b04d;letter-spacing:1.1px;">250</div>
<div class="t" style="left:260.6px;width:200px;text-align:center;top:364.2px;font-size:26px;line-height:30px;color:#e7b04d;letter-spacing:1.1px;">250</div>
<div class="t" style="left:587.5px;width:160px;text-align:center;top:364.2px;font-size:26px;line-height:30px;color:#e7b04d;letter-spacing:1.1px;">60</div>
<div class="r" style="left:810px;top:358px;width:122px;height:38px;border-radius:7px;background:#5b3a27;"></div>
<div class="t" style="left:810.0px;width:122px;text-align:center;top:362.0px;font-size:26px;line-height:30px;color:#e8b24c;">partial</div>
<div class="t" style="left:1101.5px;width:160px;text-align:center;top:364.2px;font-size:26px;line-height:30px;color:#e7b04d;letter-spacing:1.1px;">190</div>
<div class="r" style="left:1302px;top:358px;width:196px;height:38px;border-radius:7px;background:#722b26;"></div>
<div class="t" style="left:1300.0px;width:196px;text-align:center;top:364.2px;font-size:26px;line-height:30px;color:#f2b8b0;letter-spacing:1.1px;">190</div>
<div class="t" style="left:1518.0px;top:364.2px;font-size:26px;line-height:30px;color:#cbbff5;width:248px;overflow:hidden;letter-spacing:0.96px;">ACPL-M50L-000E</div>
<div class="t" style="left:1774.0px;top:364.2px;font-size:26px;line-height:30px;color:#e7b04d;">Avago</div>
<div class="r" style="left:0px;top:406px;width:2026px;height:56px;background:#29251f;"></div>
<div class="r" style="left:0px;top:462px;width:2026px;height:2px;background:#141414;"></div>
<div class="t" style="left:9.5px;width:160px;text-align:center;top:422.2px;font-size:26px;line-height:30px;color:#e7b04d;letter-spacing:1.1px;">750</div>
<div class="t" style="left:260.6px;width:200px;text-align:center;top:422.2px;font-size:26px;line-height:30px;color:#e7b04d;letter-spacing:1.1px;">750</div>
<div class="t" style="left:587.5px;width:160px;text-align:center;top:422.2px;font-size:26px;line-height:30px;color:#e7b04d;letter-spacing:1.1px;">60</div>
<div class="r" style="left:810px;top:416px;width:122px;height:38px;border-radius:7px;background:#5b3a27;"></div>
<div class="t" style="left:810.0px;width:122px;text-align:center;top:420.0px;font-size:26px;line-height:30px;color:#e8b24c;">partial</div>
<div class="t" style="left:1101.5px;width:160px;text-align:center;top:422.2px;font-size:26px;line-height:30px;color:#e7b04d;letter-spacing:1.1px;">570</div>
<div class="r" style="left:1302px;top:416px;width:196px;height:38px;border-radius:7px;background:#722b26;"></div>
<div class="t" style="left:1300.0px;width:196px;text-align:center;top:422.2px;font-size:26px;line-height:30px;color:#f2b8b0;letter-spacing:1.1px;">570</div>
<div class="t" style="left:1518.0px;top:422.2px;font-size:26px;line-height:30px;color:#cbbff5;width:248px;overflow:hidden;letter-spacing:-0.12px;">APT2012SECK</div>
<div class="t" style="left:1774.0px;top:422.2px;font-size:26px;line-height:30px;color:#e7b04d;letter-spacing:1.07px;">Kingbright</div>
<div class="r" style="left:0px;top:464px;width:2026px;height:56px;background:#29251f;"></div>
<div class="r" style="left:0px;top:520px;width:2026px;height:2px;background:#141414;"></div>
<div class="t" style="left:9.5px;width:160px;text-align:center;top:480.2px;font-size:26px;line-height:30px;color:#e7b04d;letter-spacing:1.1px;">1,750</div>
<div class="t" style="left:260.6px;width:200px;text-align:center;top:480.2px;font-size:26px;line-height:30px;color:#e7b04d;letter-spacing:1.1px;">1,803</div>
<div class="t" style="left:587.5px;width:160px;text-align:center;top:480.2px;font-size:26px;line-height:30px;color:#e7b04d;letter-spacing:1.1px;">69</div>
<div class="r" style="left:810px;top:474px;width:122px;height:38px;border-radius:7px;background:#5b3a27;"></div>
<div class="t" style="left:810.0px;width:122px;text-align:center;top:478.0px;font-size:26px;line-height:30px;color:#e8b24c;">partial</div>
<div class="t" style="left:1101.5px;width:160px;text-align:center;top:480.2px;font-size:26px;line-height:30px;color:#e7b04d;letter-spacing:1.1px;">1,303</div>
<div class="r" style="left:1302px;top:474px;width:196px;height:38px;border-radius:7px;background:#722b26;"></div>
<div class="t" style="left:1300.0px;width:196px;text-align:center;top:480.2px;font-size:26px;line-height:30px;color:#f2b8b0;letter-spacing:1.1px;">1,303</div>
<div class="t" style="left:1518.0px;top:480.2px;font-size:26px;line-height:30px;color:#cbbff5;width:248px;overflow:hidden;letter-spacing:0.32px;">CC0603KRX7R9BB1</div>
<div class="t" style="left:1774.0px;top:480.2px;font-size:26px;line-height:30px;color:#e7b04d;">Yageo</div>
<div class="r" style="left:0px;top:522px;width:2026px;height:56px;background:#29251f;"></div>
<div class="r" style="left:0px;top:578px;width:2026px;height:2px;background:#141414;"></div>
<div class="t" style="left:9.5px;width:160px;text-align:center;top:538.2px;font-size:26px;line-height:30px;color:#e7b04d;letter-spacing:1.1px;">500</div>
<div class="t" style="left:260.6px;width:200px;text-align:center;top:538.2px;font-size:26px;line-height:30px;color:#e7b04d;letter-spacing:1.1px;">515</div>
<div class="t" style="left:587.5px;width:160px;text-align:center;top:538.2px;font-size:26px;line-height:30px;color:#e7b04d;letter-spacing:1.1px;">65</div>
<div class="r" style="left:810px;top:532px;width:122px;height:38px;border-radius:7px;background:#5b3a27;"></div>
<div class="t" style="left:810.0px;width:122px;text-align:center;top:536.0px;font-size:26px;line-height:30px;color:#e8b24c;">partial</div>
<div class="t" style="left:1101.5px;width:160px;text-align:center;top:538.2px;font-size:26px;line-height:30px;color:#e7b04d;letter-spacing:1.1px;">374</div>
<div class="r" style="left:1302px;top:532px;width:196px;height:38px;border-radius:7px;background:#722b26;"></div>
<div class="t" style="left:1300.0px;width:196px;text-align:center;top:538.2px;font-size:26px;line-height:30px;color:#f2b8b0;letter-spacing:1.1px;">374</div>
<div class="t" style="left:1518.0px;top:538.2px;font-size:26px;line-height:30px;color:#cbbff5;width:248px;overflow:hidden;letter-spacing:0.24px;">CRCW0603100RFKI</div>
<div class="t" style="left:1774.0px;top:538.2px;font-size:26px;line-height:30px;color:#e7b04d;letter-spacing:0.36px;">Vishay</div>
<div class="r" style="left:0px;top:580px;width:2026px;height:56px;background:#29251f;"></div>
<div class="r" style="left:0px;top:636px;width:2026px;height:2px;background:#141414;"></div>
<div class="t" style="left:9.5px;width:160px;text-align:center;top:596.2px;font-size:26px;line-height:30px;color:#e7b04d;letter-spacing:1.1px;">750</div>
<div class="t" style="left:260.6px;width:200px;text-align:center;top:596.2px;font-size:26px;line-height:30px;color:#e7b04d;letter-spacing:1.1px;">773</div>
<div class="t" style="left:587.5px;width:160px;text-align:center;top:596.2px;font-size:26px;line-height:30px;color:#e7b04d;letter-spacing:1.1px;">31</div>
<div class="r" style="left:810px;top:590px;width:122px;height:38px;border-radius:7px;background:#5b3a27;"></div>
<div class="t" style="left:810.0px;width:122px;text-align:center;top:594.0px;font-size:26px;line-height:30px;color:#e8b24c;">partial</div>
<div class="t" style="left:1101.5px;width:160px;text-align:center;top:596.2px;font-size:26px;line-height:30px;color:#e7b04d;letter-spacing:1.1px;">669</div>
<div class="r" style="left:1302px;top:590px;width:196px;height:38px;border-radius:7px;background:#722b26;"></div>
<div class="t" style="left:1300.0px;width:196px;text-align:center;top:596.2px;font-size:26px;line-height:30px;color:#f2b8b0;letter-spacing:1.1px;">669</div>
<div class="t" style="left:1518.0px;top:596.2px;font-size:26px;line-height:30px;color:#cbbff5;width:248px;overflow:hidden;letter-spacing:0.50px;">CRCW0603220RFKI</div>
<div class="t" style="left:1774.0px;top:596.2px;font-size:26px;line-height:30px;color:#e7b04d;letter-spacing:0.36px;">Vishay</div>
<div class="r" style="left:0px;top:638px;width:2026px;height:56px;background:#29251f;"></div>
<div class="r" style="left:0px;top:694px;width:2026px;height:2px;background:#141414;"></div>
<div class="t" style="left:9.5px;width:160px;text-align:center;top:654.2px;font-size:26px;line-height:30px;color:#e7b04d;letter-spacing:1.1px;">500</div>
<div class="t" style="left:260.6px;width:200px;text-align:center;top:654.2px;font-size:26px;line-height:30px;color:#e7b04d;letter-spacing:1.1px;">515</div>
<div class="t" style="left:587.5px;width:160px;text-align:center;top:654.2px;font-size:26px;line-height:30px;color:#e7b04d;letter-spacing:1.1px;">55</div>
<div class="r" style="left:810px;top:648px;width:122px;height:38px;border-radius:7px;background:#5b3a27;"></div>
<div class="t" style="left:810.0px;width:122px;text-align:center;top:652.0px;font-size:26px;line-height:30px;color:#e8b24c;">partial</div>
<div class="t" style="left:1101.5px;width:160px;text-align:center;top:654.2px;font-size:26px;line-height:30px;color:#e7b04d;letter-spacing:1.1px;">395</div>
<div class="r" style="left:1302px;top:648px;width:196px;height:38px;border-radius:7px;background:#722b26;"></div>
<div class="t" style="left:1300.0px;width:196px;text-align:center;top:654.2px;font-size:26px;line-height:30px;color:#f2b8b0;letter-spacing:1.1px;">395</div>
<div class="t" style="left:1518.0px;top:654.2px;font-size:26px;line-height:30px;color:#cbbff5;width:248px;overflow:hidden;letter-spacing:0.50px;">CRCW06034K70FKI</div>
<div class="t" style="left:1774.0px;top:654.2px;font-size:26px;line-height:30px;color:#e7b04d;letter-spacing:0.36px;">Vishay</div>
<div class="r" style="left:0px;top:696px;width:2026px;height:56px;background:#29251f;"></div>
<div class="r" style="left:0px;top:752px;width:2026px;height:2px;background:#141414;"></div>
<div class="t" style="left:9.5px;width:160px;text-align:center;top:712.2px;font-size:26px;line-height:30px;color:#e7b04d;letter-spacing:1.1px;">250</div>
<div class="t" style="left:260.6px;width:200px;text-align:center;top:712.2px;font-size:26px;line-height:30px;color:#e7b04d;letter-spacing:1.1px;">250</div>
<div class="t" style="left:587.5px;width:160px;text-align:center;top:712.2px;font-size:26px;line-height:30px;color:#e7b04d;letter-spacing:1.1px;">30</div>
<div class="r" style="left:810px;top:706px;width:122px;height:38px;border-radius:7px;background:#5b3a27;"></div>
<div class="t" style="left:810.0px;width:122px;text-align:center;top:710.0px;font-size:26px;line-height:30px;color:#e8b24c;">partial</div>
<div class="t" style="left:1101.5px;width:160px;text-align:center;top:712.2px;font-size:26px;line-height:30px;color:#e7b04d;letter-spacing:1.1px;">220</div>
<div class="r" style="left:1302px;top:706px;width:196px;height:38px;border-radius:7px;background:#722b26;"></div>
<div class="t" style="left:1300.0px;width:196px;text-align:center;top:712.2px;font-size:26px;line-height:30px;color:#f2b8b0;letter-spacing:1.1px;">220</div>
<div class="t" style="left:1518.0px;top:712.2px;font-size:26px;line-height:30px;color:#cbbff5;width:248px;overflow:hidden;letter-spacing:0.85px;">EFM32TG222F32-Q</div>
<div class="t" style="left:1774.0px;top:712.2px;font-size:26px;line-height:30px;color:#e7b04d;letter-spacing:0.71px;">Silicon Labs</div>
<div class="r" style="left:0px;top:754px;width:2026px;height:56px;background:#29251f;"></div>
<div class="r" style="left:0px;top:810px;width:2026px;height:2px;background:#141414;"></div>
<div class="t" style="left:9.5px;width:160px;text-align:center;top:770.2px;font-size:26px;line-height:30px;color:#e7b04d;letter-spacing:1.1px;">250</div>
<div class="t" style="left:260.6px;width:200px;text-align:center;top:770.2px;font-size:26px;line-height:30px;color:#e7b04d;letter-spacing:1.1px;">250</div>
<div class="t" style="left:587.5px;width:160px;text-align:center;top:770.2px;font-size:26px;line-height:30px;color:#e7b04d;letter-spacing:1.1px;">66</div>
<div class="r" style="left:810px;top:764px;width:122px;height:38px;border-radius:7px;background:#5b3a27;"></div>
<div class="t" style="left:810.0px;width:122px;text-align:center;top:768.0px;font-size:26px;line-height:30px;color:#e8b24c;">partial</div>
<div class="t" style="left:1101.5px;width:160px;text-align:center;top:770.2px;font-size:26px;line-height:30px;color:#e7b04d;letter-spacing:1.1px;">184</div>
<div class="r" style="left:1302px;top:764px;width:196px;height:38px;border-radius:7px;background:#722b26;"></div>
<div class="t" style="left:1300.0px;width:196px;text-align:center;top:770.2px;font-size:26px;line-height:30px;color:#f2b8b0;letter-spacing:1.1px;">184</div>
<div class="t" style="left:1518.0px;top:770.2px;font-size:26px;line-height:30px;color:#cbbff5;width:248px;overflow:hidden;letter-spacing:0.33px;">FT231XS-R</div>
<div class="t" style="left:1774.0px;top:770.2px;font-size:26px;line-height:30px;color:#e7b04d;">FTDI</div>
<div class="r" style="left:0px;top:812px;width:2026px;height:56px;background:#29251f;"></div>
<div class="r" style="left:0px;top:868px;width:2026px;height:2px;background:#141414;"></div>
<div class="t" style="left:9.5px;width:160px;text-align:center;top:828.2px;font-size:26px;line-height:30px;color:#e7b04d;letter-spacing:1.1px;">250</div>
<div class="t" style="left:260.6px;width:200px;text-align:center;top:828.2px;font-size:26px;line-height:30px;color:#e7b04d;letter-spacing:1.1px;">260</div>
<div class="t" style="left:587.5px;width:160px;text-align:center;top:828.2px;font-size:26px;line-height:30px;color:#e7b04d;letter-spacing:1.1px;">92</div>
<div class="r" style="left:810px;top:822px;width:122px;height:38px;border-radius:7px;background:#5b3a27;"></div>
<div class="t" style="left:810.0px;width:122px;text-align:center;top:826.0px;font-size:26px;line-height:30px;color:#e8b24c;">partial</div>
<div class="t" style="left:1101.5px;width:160px;text-align:center;top:828.2px;font-size:26px;line-height:30px;color:#e7b04d;letter-spacing:1.1px;">158</div>
<div class="r" style="left:1302px;top:822px;width:196px;height:38px;border-radius:7px;background:#722b26;"></div>
<div class="t" style="left:1300.0px;width:196px;text-align:center;top:828.2px;font-size:26px;line-height:30px;color:#f2b8b0;letter-spacing:1.1px;">158</div>
<div class="t" style="left:1518.0px;top:828.2px;font-size:26px;line-height:30px;color:#cbbff5;width:248px;overflow:hidden;letter-spacing:0.42px;">GRM188R60J475KE</div>
<div class="t" style="left:1774.0px;top:828.2px;font-size:26px;line-height:30px;color:#e7b04d;letter-spacing:0.80px;">Murata</div>
<div class="r" style="left:0px;top:870px;width:2026px;height:56px;background:#29251f;"></div>
<div class="r" style="left:0px;top:926px;width:2026px;height:2px;background:#141414;"></div>
<div class="t" style="left:9.5px;width:160px;text-align:center;top:886.2px;font-size:26px;line-height:30px;color:#e7b04d;letter-spacing:1.1px;">250</div>
<div class="t" style="left:260.6px;width:200px;text-align:center;top:886.2px;font-size:26px;line-height:30px;color:#e7b04d;letter-spacing:1.1px;">260</div>
<div class="t" style="left:587.5px;width:160px;text-align:center;top:886.2px;font-size:26px;line-height:30px;color:#e7b04d;letter-spacing:1.1px;">202</div>
<div class="r" style="left:810px;top:880px;width:122px;height:38px;border-radius:7px;background:#5b3a27;"></div>
<div class="t" style="left:810.0px;width:122px;text-align:center;top:884.0px;font-size:26px;line-height:30px;color:#e8b24c;">partial</div>
<div class="t" style="left:1101.5px;width:160px;text-align:center;top:886.2px;font-size:26px;line-height:30px;color:#e7b04d;letter-spacing:1.1px;">48</div>
<div class="r" style="left:1302px;top:880px;width:196px;height:38px;border-radius:7px;background:#722b26;"></div>
<div class="t" style="left:1300.0px;width:196px;text-align:center;top:886.2px;font-size:26px;line-height:30px;color:#f2b8b0;letter-spacing:1.1px;">48</div>
<div class="t" style="left:1518.0px;top:886.2px;font-size:26px;line-height:30px;color:#cbbff5;width:248px;overflow:hidden;letter-spacing:-0.10px;">GRM188R61E105KA</div>
<div class="t" style="left:1774.0px;top:886.2px;font-size:26px;line-height:30px;color:#e7b04d;letter-spacing:0.80px;">Murata</div>
<div class="r" style="left:0px;top:928px;width:2026px;height:56px;background:#29251f;"></div>
<div class="r" style="left:0px;top:984px;width:2026px;height:2px;background:#141414;"></div>
<div class="t" style="left:9.5px;width:160px;text-align:center;top:944.2px;font-size:26px;line-height:30px;color:#e7b04d;letter-spacing:1.1px;">250</div>
<div class="t" style="left:260.6px;width:200px;text-align:center;top:944.2px;font-size:26px;line-height:30px;color:#e7b04d;letter-spacing:1.1px;">260</div>
<div class="t" style="left:587.5px;width:160px;text-align:center;top:944.2px;font-size:26px;line-height:30px;color:#e7b04d;letter-spacing:1.1px;">164</div>
<div class="r" style="left:810px;top:938px;width:122px;height:38px;border-radius:7px;background:#5b3a27;"></div>
<div class="t" style="left:810.0px;width:122px;text-align:center;top:942.0px;font-size:26px;line-height:30px;color:#e8b24c;">partial</div>
<div class="t" style="left:1101.5px;width:160px;text-align:center;top:944.2px;font-size:26px;line-height:30px;color:#e7b04d;letter-spacing:1.1px;">86</div>
<div class="r" style="left:1302px;top:938px;width:196px;height:38px;border-radius:7px;background:#722b26;"></div>
<div class="t" style="left:1300.0px;width:196px;text-align:center;top:944.2px;font-size:26px;line-height:30px;color:#f2b8b0;letter-spacing:1.1px;">86</div>
<div class="t" style="left:1518.0px;top:944.2px;font-size:26px;line-height:30px;color:#cbbff5;width:248px;overflow:hidden;letter-spacing:0.16px;">GRM188R61H474KA</div>
<div class="t" style="left:1774.0px;top:944.2px;font-size:26px;line-height:30px;color:#e7b04d;letter-spacing:0.80px;">Murata</div>
<div class="r" style="left:0px;top:986px;width:2026px;height:56px;background:#29251f;"></div>
<div class="r" style="left:0px;top:1042px;width:2026px;height:2px;background:#141414;"></div>
<div class="t" style="left:9.5px;width:160px;text-align:center;top:1002.2px;font-size:26px;line-height:30px;color:#e7b04d;letter-spacing:1.1px;">500</div>
<div class="t" style="left:260.6px;width:200px;text-align:center;top:1002.2px;font-size:26px;line-height:30px;color:#e7b04d;letter-spacing:1.1px;">515</div>
<div class="t" style="left:587.5px;width:160px;text-align:center;top:1002.2px;font-size:26px;line-height:30px;color:#e7b04d;letter-spacing:1.1px;">70</div>
<div class="r" style="left:810px;top:996px;width:122px;height:38px;border-radius:7px;background:#5b3a27;"></div>
<div class="t" style="left:810.0px;width:122px;text-align:center;top:1000.0px;font-size:26px;line-height:30px;color:#e8b24c;">partial</div>
<div class="t" style="left:1101.5px;width:160px;text-align:center;top:1002.2px;font-size:26px;line-height:30px;color:#e7b04d;letter-spacing:1.1px;">365</div>
<div class="r" style="left:1302px;top:996px;width:196px;height:38px;border-radius:7px;background:#722b26;"></div>
<div class="t" style="left:1300.0px;width:196px;text-align:center;top:1002.2px;font-size:26px;line-height:30px;color:#f2b8b0;letter-spacing:1.1px;">365</div>
<div class="t" style="left:1518.0px;top:1002.2px;font-size:26px;line-height:30px;color:#cbbff5;width:248px;overflow:hidden;letter-spacing:-0.29px;">GRM21BR61A106KE</div>
<div class="t" style="left:1774.0px;top:1002.2px;font-size:26px;line-height:30px;color:#e7b04d;letter-spacing:0.80px;">Murata</div>
<div class="r" style="left:0px;top:1044px;width:2026px;height:56px;background:#29251f;"></div>
<div class="r" style="left:0px;top:1100px;width:2026px;height:2px;background:#141414;"></div>
<div class="t" style="left:9.5px;width:160px;text-align:center;top:1060.2px;font-size:26px;line-height:30px;color:#e7b04d;letter-spacing:1.1px;">250</div>
<div class="t" style="left:260.6px;width:200px;text-align:center;top:1060.2px;font-size:26px;line-height:30px;color:#e7b04d;letter-spacing:1.1px;">250</div>
<div class="t" style="left:587.5px;width:160px;text-align:center;top:1060.2px;font-size:26px;line-height:30px;color:#e7b04d;letter-spacing:1.1px;">59</div>
<div class="r" style="left:810px;top:1054px;width:122px;height:38px;border-radius:7px;background:#5b3a27;"></div>
<div class="t" style="left:810.0px;width:122px;text-align:center;top:1058.0px;font-size:26px;line-height:30px;color:#e8b24c;">partial</div>
<div class="t" style="left:1101.5px;width:160px;text-align:center;top:1060.2px;font-size:26px;line-height:30px;color:#e7b04d;letter-spacing:1.1px;">191</div>
<div class="r" style="left:1302px;top:1054px;width:196px;height:38px;border-radius:7px;background:#722b26;"></div>
<div class="t" style="left:1300.0px;width:196px;text-align:center;top:1060.2px;font-size:26px;line-height:30px;color:#f2b8b0;letter-spacing:1.1px;">191</div>
<div class="t" style="left:1518.0px;top:1060.2px;font-size:26px;line-height:30px;color:#cbbff5;width:248px;overflow:hidden;letter-spacing:0.49px;">HCPL-181-00BE</div>
<div class="t" style="left:1774.0px;top:1060.2px;font-size:26px;line-height:30px;color:#e7b04d;">Avago</div>
</div>
<div class="r" style="left:718px;top:1448px;width:2058px;height:30px;background:#1c1c1f;"></div>
<div class="r" style="left:938px;top:1448px;width:890px;height:30px;background:#2e2d33;"></div>
<div class="r" style="left:718px;top:1478px;width:2058px;height:2px;background:#141414;"></div>
<div class="r" style="left:718px;top:1480px;width:2058px;height:46px;background:#29261f;"></div>
<div class="t" style="left:741.0px;top:1488.0px;font-size:26px;line-height:30px;color:#fde07a;">Columns</div>
<div class="t" style="left:884.0px;top:1488.0px;font-size:26px;line-height:30px;color:#fde07a;">Views</div>
<svg class="r" style="left:986px;top:1496px" width="19" height="15" viewBox="0 0 19 15" preserveAspectRatio="none"><path d="M8 1L2 7l6 6M16 1l-6 6 6 6" fill="none" stroke="#8a8a8a" stroke-width="3.2"/></svg>
<svg class="r" style="left:1036px;top:1496px" width="12" height="15" viewBox="0 0 12 15" preserveAspectRatio="none"><path d="M9 1L3 7l6 6" fill="none" stroke="#8a8a8a" stroke-width="3.2"/></svg>
<div class="t" style="left:1068.0px;top:1488.0px;font-size:26px;line-height:30px;color:#f2f2f2;">Page <span style="color:#fff">1</span></div>
<div class="t" style="left:1155.0px;top:1488.0px;font-size:26px;line-height:30px;color:#8c8c8c;">of 1</div>
<svg class="r" style="left:1217px;top:1496px" width="12" height="15" viewBox="0 0 12 15" preserveAspectRatio="none"><path d="M3 1l6 6-6 6" fill="none" stroke="#8a8a8a" stroke-width="3.2"/></svg>
<svg class="r" style="left:1260px;top:1496px" width="19" height="15" viewBox="0 0 19 15" preserveAspectRatio="none"><path d="M2 1l6 6-6 6M10 1l6 6-6 6" fill="none" stroke="#8a8a8a" stroke-width="3.2"/></svg>
<div class="t" style="left:1305.0px;top:1488.0px;font-size:26px;line-height:30px;color:#a8a8a8;">1-23 (of <span style="color:#fff">23</span>)</div>
<svg class="r" style="left:1464px;top:1491px" width="26" height="26" viewBox="0 0 26 26" preserveAspectRatio="none"><g fill="none" stroke="#9a9a9a" stroke-width="2.2"><path d="M8 9V3h10v6M8 17v6h10v-6"/><path d="M2 13h22" stroke-dasharray="3 3"/></g></svg>
<div class="t" style="left:1495.0px;top:1488.0px;font-size:26px;line-height:30px;color:#a8a8a8;letter-spacing:1.1px;">100</div>
<div class="t" style="left:1571.0px;top:1488.0px;font-size:26px;line-height:30px;color:#a8a8a8;letter-spacing:0.3px;">1 row selected</div>
<div class="r" style="left:706px;top:1526px;width:2070px;height:56px;background:#141414;"></div>
<div class="t" style="left:126.0px;top:1538.0px;font-size:26px;line-height:30px;color:#fde07a;">Columns</div>
<div class="r" style="left:238px;top:1528px;width:2px;height:51px;background:#2a2a2a;"></div>
<div class="t" style="left:255.0px;top:1538.0px;font-size:26px;line-height:30px;color:#fde07a;">Views</div>
<div class="r" style="left:336px;top:1528px;width:2px;height:51px;background:#2a2a2a;"></div>
<svg class="r" style="left:351px;top:1546px" width="19" height="15" viewBox="0 0 19 15" preserveAspectRatio="none"><path d="M8 1L2 7l6 6M16 1l-6 6 6 6" fill="none" stroke="#8a8a8a" stroke-width="3.2"/></svg>
<svg class="r" style="left:400px;top:1546px" width="12" height="15" viewBox="0 0 12 15" preserveAspectRatio="none"><path d="M9 1L3 7l6 6" fill="none" stroke="#8a8a8a" stroke-width="3.2"/></svg>
<div class="t" style="left:434.0px;top:1538.0px;font-size:26px;line-height:30px;color:#f2f2f2;">Page <span style="color:#fff">1</span></div>
<div class="t" style="left:520.0px;top:1538.0px;font-size:26px;line-height:30px;color:#8c8c8c;">of 1</div>
<svg class="r" style="left:582px;top:1546px" width="12" height="15" viewBox="0 0 12 15" preserveAspectRatio="none"><path d="M3 1l6 6-6 6" fill="none" stroke="#8a8a8a" stroke-width="3.2"/></svg>
<svg class="r" style="left:625px;top:1546px" width="19" height="15" viewBox="0 0 19 15" preserveAspectRatio="none"><path d="M2 1l6 6-6 6M10 1l6 6-6 6" fill="none" stroke="#8a8a8a" stroke-width="3.2"/></svg>
<div class="t" style="left:671.0px;top:1538.0px;font-size:26px;line-height:30px;color:#a8a8a8;">1-60 (of <span style="color:#fff">60</span>)</div>
<svg class="r" style="left:832px;top:1541px" width="26" height="26" viewBox="0 0 26 26" preserveAspectRatio="none"><g fill="none" stroke="#9a9a9a" stroke-width="2.2"><path d="M8 9V3h10v6M8 17v6h10v-6"/><path d="M2 13h22" stroke-dasharray="3 3"/></g></svg>
<div class="t" style="left:863.0px;top:1538.0px;font-size:26px;line-height:30px;color:#a8a8a8;letter-spacing:1.1px;">500</div>
<div class="r" style="left:926px;top:1535px;width:2px;height:42px;background:#2a2a2a;"></div>
<div class="t" style="left:941.0px;top:1538.0px;font-size:26px;line-height:30px;color:#a8a8a8;letter-spacing:0.3px;">2 rows selected</div>
<svg class="r" style="left:2260px;top:1543px" width="30" height="22" viewBox="0 0 30 22" preserveAspectRatio="none"><g stroke="#9a9a9a" stroke-width="2.6"><path d="M6 1v20M12 1v20M18 1v20M24 1v20"/><path d="M1 15L29 7"/></g></svg>
<div class="r" style="left:2308px;top:1534px;width:296px;height:42px;border-radius:7px;background:#241e44;"></div>
<div class="r" style="left:2320px;top:1536px;width:102px;height:38px;border-radius:6px;background:#7b3d8b;"></div>
<div class="t" style="left:2328.0px;top:1540.8px;font-size:25px;line-height:29px;color:#f0e8f4;">Sample</div>
<div class="t" style="left:2430.0px;top:1540.8px;font-size:25px;line-height:29px;color:#a4a2ac;">Workspace</div>
<svg class="r" style="left:2569px;top:1545px" width="20" height="22" viewBox="0 0 20 22" preserveAspectRatio="none"><circle cx="10" cy="5.5" r="5.5" fill="#9e9ca6"/><path d="M0 22v-3a6 6 0 0 1 6-6h8a6 6 0 0 1 6 6v3z" fill="#9e9ca6"/></svg>
<div class="r" style="left:2616px;top:1534px;width:80px;height:42px;border-radius:6px;background:#3d3566;"></div>
<div class="t" style="left:2625.0px;top:1543.9px;font-size:22px;line-height:25px;color:#f0f0f0;">TEAM</div>
<div class="r" style="left:2704px;top:1534px;width:52px;height:42px;border-radius:6px;background:#24785a;"></div>
<div class="t" style="left:2712.0px;top:1543.9px;font-size:22px;line-height:25px;color:#f0f0f0;">API</div>
</div></div>
<div class="r" style="left:112px;top:76px;width:2664px;height:1506px;border-radius:20px;box-shadow:inset 0 0 0 1px #3a3a3a;"></div>
<div class="r" style="left:112px;top:76px;width:2662px;height:30px;border:1px solid transparent;border-top-color:#787878;border-bottom:none;border-radius:20px 20px 0 0;"></div>
</body></html>
